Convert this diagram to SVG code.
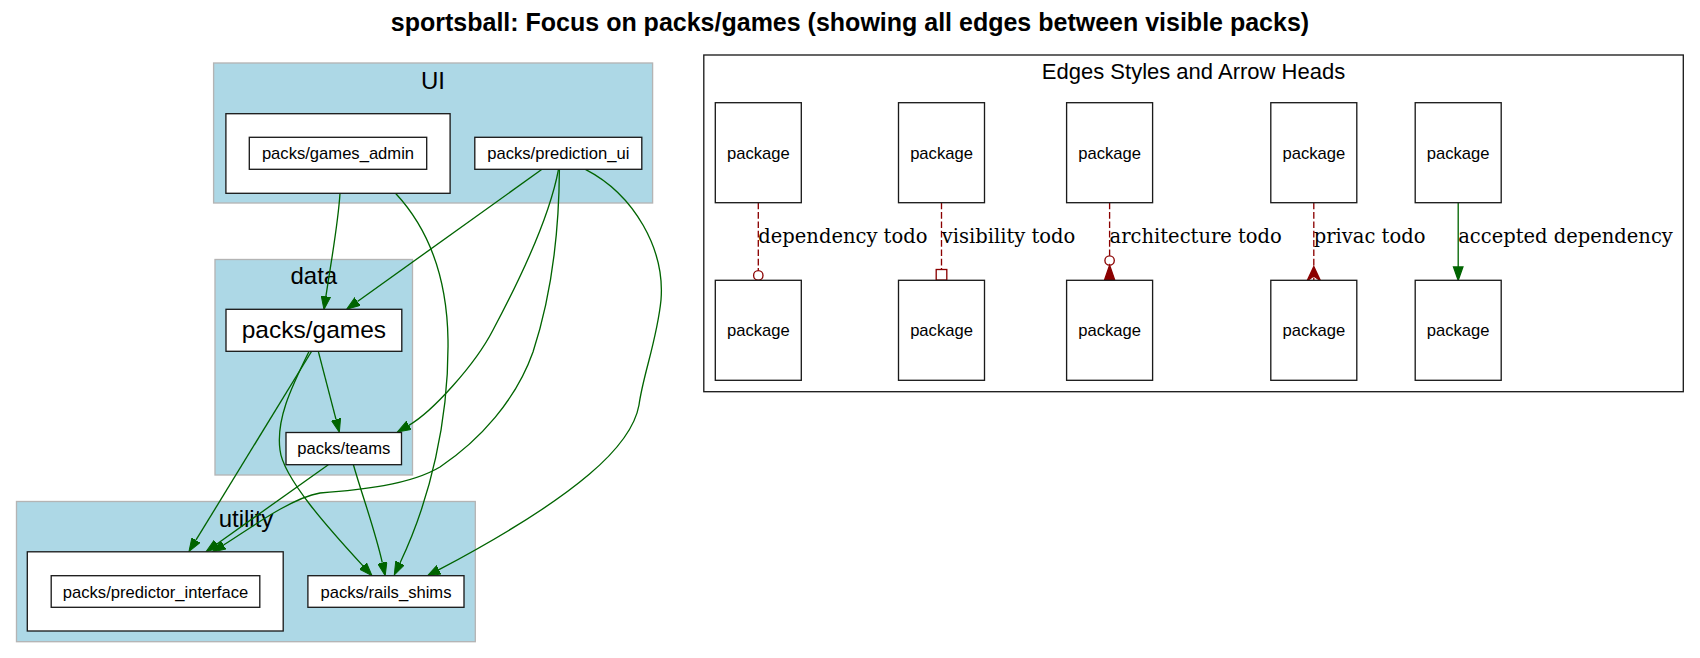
<svg xmlns="http://www.w3.org/2000/svg" width="1700" height="658" viewBox="0 0 1700 658">
<style>
  .bg{fill:#ffffff}
  .cluster{fill:#add8e6;stroke:#b4b4b4;stroke-width:1.33}
  .legend{fill:#ffffff;stroke:#1a1a1a;stroke-width:1.33}
  .node{fill:#ffffff;stroke:#1a1a1a;stroke-width:1.33}
  .t{font-family:"Liberation Sans",Arial,sans-serif;fill:#000000;text-anchor:middle}
  .title{font-size:25px;font-weight:bold}
  .cl{font-size:24px}
  .nl{font-size:16.6px}
  .big{font-size:24.5px}
  .lt{font-size:22px}
  .el{font-family:"DejaVu Serif",serif;font-size:19.5px;fill:#000000;text-anchor:start}
  .e{fill:none;stroke:#006400;stroke-width:1.33}
  .r{fill:none;stroke:#8b0000;stroke-width:1.33;stroke-dasharray:6.67,2.67}
  .rh{fill:none;stroke:#8b0000;stroke-width:1.33}
  .rf{fill:#8b0000;stroke:#8b0000;stroke-width:1.33}
  .gf{fill:#006400;stroke:#006400;stroke-width:1.33}
</style>
<defs>
  <marker id="ah" markerUnits="userSpaceOnUse" viewBox="0 0 14 10" refX="0" refY="5" markerWidth="14" markerHeight="10" orient="auto">
    <path d="M0,0.3 L13.3,5 L0,9.7 Z" fill="#006400" stroke="#006400" stroke-width="1"/>
  </marker>
</defs>
<rect class="bg" x="0" y="0" width="1700" height="658"/>
<text class="t title" x="850" y="30.5">sportsball: Focus on packs/games (showing all edges between visible packs)</text>

<g id="cluster_UI">
  <rect class="cluster" x="213.6" y="63" width="439" height="140"/>
  <text class="t cl" x="433" y="89">UI</text>
</g>
<g id="cluster_data">
  <rect class="cluster" x="215" y="259.5" width="197.5" height="215.5"/>
  <text class="t cl" x="313.8" y="284.3">data</text>
</g>
<g id="cluster_utility">
  <rect class="cluster" x="16.5" y="501.5" width="458.8" height="140.2"/>
  <text class="t cl" x="246" y="526.7">utility</text>
</g>
<g id="cluster_legend">
  <rect class="legend" x="703.8" y="55" width="979.5" height="336.7"/>
  <text class="t lt" x="1193.5" y="79.3">Edges Styles and Arrow Heads</text>
</g>

<g id="connectors">
  <path class="e" marker-end="url(#ah)" d="M340,193.3 C338,225 331,262 325.9,296.4"/>
  <path class="e" marker-end="url(#ah)" d="M395.5,193.3 C425,225 447,270 448,340 C449,420 430,500 400,563"/>
  <path class="e" marker-end="url(#ah)" d="M542,169.3 L357.5,301.5"/>
  <path class="e" marker-end="url(#ah)" d="M558.5,169.3 C550,215 525,270 493,330 C475,365 432,412 408.9,425.3"/>
  <path class="e" marker-end="url(#ah)" d="M559.4,169.3 C559,240 550,300 533,352 C516,400 480,440 440,467 C410,485 360,490 320,493 C290,498 245,532 223.5,545"/>
  <path class="e" marker-end="url(#ah)" d="M585.4,169.3 C635,195 665,250 661,300 C657,340 643,375 639,405 C632,445 580,495 439,569.7"/>
  <path class="e" marker-end="url(#ah)" d="M318.3,351.3 L336,419.4"/>
  <path class="e" marker-end="url(#ah)" d="M311.5,351.5 L195.9,540.2"/>
  <path class="e" marker-end="url(#ah)" d="M309,351.5 C290,390 276,420 280,450 C283,478 330,530 363,565.9"/>
  <path class="e" marker-end="url(#ah)" d="M328.3,464.7 L216.9,544"/>
  <path class="e" marker-end="url(#ah)" d="M353.4,464.7 C362,495 375,530 382.3,562.7"/>

  <path class="r" d="M758.3,202.7 L758.3,270.5"/>
  <circle class="rh" cx="758.3" cy="275.4" r="4.7"/>
  <text class="el" x="758.3" y="242.7">dependency todo</text>

  <path class="r" d="M941.5,202.7 L941.5,269.5"/>
  <rect class="rh" x="936.2" y="269.5" width="10.6" height="10.6"/>
  <text class="el" x="941.7" y="242.7">visibility todo</text>

  <path class="r" d="M1109.6,202.7 L1109.6,255.8"/>
  <circle class="rh" cx="1109.6" cy="260.5" r="4.7"/>
  <path class="rf" d="M1109.6,265.3 L1114.8,280.3 L1104.4,280.3 Z"/>
  <text class="el" x="1109.6" y="242.7">architecture todo</text>

  <path class="r" d="M1313.8,202.7 L1313.8,280"/>
  <path class="rf" d="M1313.8,266.5 L1320.6,281 L1313.8,276 L1307,281 Z"/>
  <text class="el" x="1313.8" y="242.7">privac todo</text>

  <path class="e" d="M1458.2,202.7 L1458.2,267"/>
  <path class="gf" d="M1458.2,280.3 L1453.5,267 L1462.9,267 Z"/>
  <text class="el" x="1458.2" y="242.7">accepted dependency</text>
</g>

<g id="node_games_admin">
  <rect class="node" x="225.9" y="113.7" width="224.2" height="79.6"/>
  <rect class="node" x="249.3" y="137.3" width="177.4" height="32"/>
  <text class="t nl" x="338" y="159">packs/games_admin</text>
</g>
<g id="node_prediction_ui">
  <rect class="node" x="474.8" y="137.3" width="167" height="32"/>
  <text class="t nl" x="558.3" y="159">packs/prediction_ui</text>
</g>
<g id="node_games">
  <rect class="node" x="226" y="309.3" width="175.8" height="42"/>
  <text class="t big" x="313.9" y="338">packs/games</text>
</g>
<g id="node_teams">
  <rect class="node" x="286" y="432.5" width="115.5" height="32.2"/>
  <text class="t nl" x="343.8" y="454.3">packs/teams</text>
</g>
<g id="node_predictor_interface">
  <rect class="node" x="27.3" y="551.8" width="255.9" height="79.2"/>
  <rect class="node" x="51.2" y="575.7" width="208.6" height="31.6"/>
  <text class="t nl" x="155.5" y="597.5">packs/predictor_interface</text>
</g>
<g id="node_rails_shims">
  <rect class="node" x="307.9" y="575.7" width="156.1" height="31.6"/>
  <text class="t nl" x="386" y="597.5">packs/rails_shims</text>
</g>

<g id="legend_nodes">
  <g id="pkg_a1"><rect class="node" x="715.3" y="102.7" width="86" height="100"/><text class="t nl" x="758.3" y="158.5">package</text></g>
  <g id="pkg_a2"><rect class="node" x="715.3" y="280.3" width="86" height="100"/><text class="t nl" x="758.3" y="336">package</text></g>
  <g id="pkg_b1"><rect class="node" x="898.5" y="102.7" width="86" height="100"/><text class="t nl" x="941.5" y="158.5">package</text></g>
  <g id="pkg_b2"><rect class="node" x="898.5" y="280.3" width="86" height="100"/><text class="t nl" x="941.5" y="336">package</text></g>
  <g id="pkg_c1"><rect class="node" x="1066.6" y="102.7" width="86" height="100"/><text class="t nl" x="1109.6" y="158.5">package</text></g>
  <g id="pkg_c2"><rect class="node" x="1066.6" y="280.3" width="86" height="100"/><text class="t nl" x="1109.6" y="336">package</text></g>
  <g id="pkg_d1"><rect class="node" x="1270.8" y="102.7" width="86" height="100"/><text class="t nl" x="1313.8" y="158.5">package</text></g>
  <g id="pkg_d2"><rect class="node" x="1270.8" y="280.3" width="86" height="100"/><text class="t nl" x="1313.8" y="336">package</text></g>
  <g id="pkg_e1"><rect class="node" x="1415.2" y="102.7" width="86" height="100"/><text class="t nl" x="1458.2" y="158.5">package</text></g>
  <g id="pkg_e2"><rect class="node" x="1415.2" y="280.3" width="86" height="100"/><text class="t nl" x="1458.2" y="336">package</text></g>
</g>
</svg>
